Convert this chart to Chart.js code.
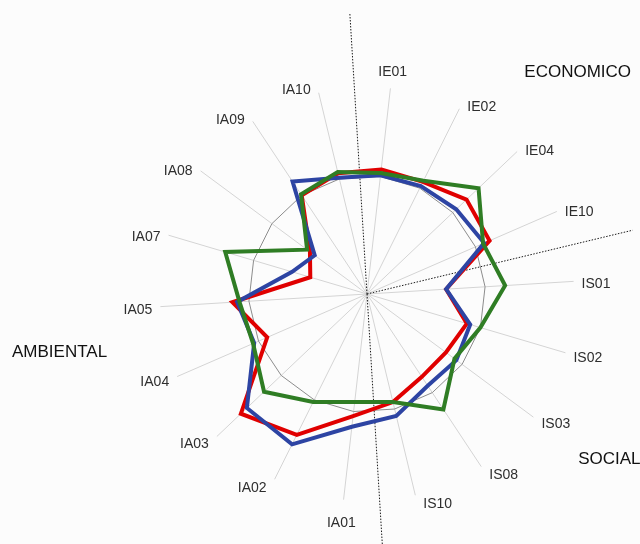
<!DOCTYPE html>
<html>
<head>
<meta charset="utf-8">
<script src="https://cdn.jsdelivr.net/npm/chart.js@4.4.0/dist/chart.umd.min.js"></script>
<style>
    body { margin: 0; background: #fcfcfc; }
    #wrap { width: 640px; height: 544px; position: relative; }
</style>
</head>
<body>
<div id="wrap"><canvas id="radarChart"></canvas></div>
<script>
const categories = ['IE01', 'IE02', 'IE04', 'IE10', 'IS01', 'IS02', 'IS03', 'IS08', 'IS10',
    'IA01', 'IA02', 'IA03', 'IA04', 'IA05', 'IA07', 'IA08', 'IA09', 'IA10'];

const serieRoja = [1.06, 1.06, 1.16, 1.13, 0.67, 0.88, 0.83, 0.84, 0.94, 1.04, 1.33, 1.47, 0.92, 1.14, 0.50, 0.60, 1.00, 1.05];
const serieAzul = [1.01, 1.02, 1.04, 1.08, 0.67, 0.91, 0.94, 0.93, 1.06, 1.13, 1.42, 1.40, 1.04, 1.10, 0.66, 0.55, 1.14, 1.01];
const serieVerde = [1.03, 1.07, 1.30, 1.07, 1.17, 1.00, 0.92, 1.17, 0.94, 0.92, 1.02, 1.20, 1.05, 1.08, 1.25, 0.63, 1.01, 1.06];
const referencia = [1, 1, 1, 1, 1, 1, 1, 1, 1, 1, 1, 1, 1, 1, 1, 1, 1, 1];

// sector names and the index of the first category in each one
const sectors = ['ECONOMICO', 'SOCIAL', 'AMBIENTAL'];
const sectorStart = [0, 4, 9];

// dotted sector dividers + sector names
const sectorPlugin = {
    id: 'sectorLines',
    beforeDatasetsDraw(chart) {
        const scale = chart.scales.r;
        const ctx = chart.ctx;
        const R = scale.drawingArea;
        const lengths = [1.36, 1.32, 1.4];
        const half = Math.PI / categories.length;
        ctx.save();
        ctx.strokeStyle = '#1a1a1a';
        ctx.lineWidth = 1;
        ctx.setLineDash([1.5, 1.5]);
        sectorStart.forEach((start, k) => {
            const a = scale.getIndexAngle(start) - half;
            const L = R * lengths[k];
            ctx.beginPath();
            ctx.moveTo(scale.xCenter, scale.yCenter);
            ctx.lineTo(scale.xCenter + L * Math.sin(a), scale.yCenter - L * Math.cos(a));
            ctx.stroke();
        });
        ctx.restore();
    },
    afterDraw(chart) {
        const scale = chart.scales.r;
        const ctx = chart.ctx;
        const R = scale.drawingArea;
        const xC = scale.xCenter;
        const yC = scale.yCenter;
        ctx.save();

        // category labels round the spokes
        ctx.font = '14px "Liberation Sans", Arial, sans-serif';
        ctx.fillStyle = '#2e2e2e';
        ctx.textBaseline = 'middle';
        categories.forEach((label, i) => {
            const a = scale.getIndexAngle(i);
            const s = Math.sin(a);
            const c = Math.cos(a);
            let x, y;
            if (Math.abs(s) < 0.15) {
                ctx.textAlign = 'center';
                x = xC + (R + 20) * s;
                y = yC - (R + 20) * c + 3.5;
            } else {
                ctx.textAlign = s > 0 ? 'left' : 'right';
                x = xC + R * s + (s > 0 ? 8 : -8);
                y = yC - (R + 6) * c + 3.5;
            }
            ctx.fillText(label, x, y);
        });

        // sector names
        const spots = [[0.76, -1.07], [1.02, 0.8], [-1.715, 0.28]];
        ctx.font = '17px "Liberation Sans", Arial, sans-serif';
        ctx.fillStyle = '#111';
        ctx.textAlign = 'left';
        sectors.forEach((name, k) => {
            ctx.fillText(name, xC + spots[k][0] * R, yC + spots[k][1] * R);
        });
        ctx.restore();
    }
};

const radarChart = () => {
    const ctx = document.getElementById('radarChart').getContext('2d');

    new Chart(ctx, {
        type: 'radar',
        data: {
            labels: categories,
            datasets: [
                {
                    label: 'Serie 1',
                    data: serieRoja,
                    borderColor: '#e00000',
                    borderWidth: 4,
                    order: 3,
                },
                {
                    label: 'Serie 2',
                    data: serieAzul,
                    borderColor: '#2d44a3',
                    borderWidth: 4,
                    order: 2,
                },
                {
                    label: 'Serie 3',
                    data: serieVerde,
                    borderColor: '#2f7d24',
                    borderWidth: 4,
                    order: 1,
                },
                {
                    label: 'Referencia',
                    data: referencia,
                    borderColor: '#8c8c8c',
                    borderWidth: 1,
                    order: 4,
                }
            ]
        },
        options: {
            responsive: true,
            maintainAspectRatio: false,
            animation: false,
            layout: {
                padding: { left: 160, top: 87, right: 65, bottom: 42 }
            },
            elements: {
                line: { tension: 0, fill: false },
                point: { radius: 0, hoverRadius: 0 }
            },
            scales: {
                r: {
                    min: 0,
                    max: 1.75,
                    startAngle: 6.5,
                    ticks: { display: false },
                    grid: { display: false },
                    angleLines: {
                        display: true,
                        color: '#d4d4d4',
                        lineWidth: 1
                    },
                    pointLabels: { display: false }
                }
            },
            plugins: {
                legend: { display: false },
                tooltip: { enabled: false }
            }
        },
        plugins: [sectorPlugin]
    });
}

document.addEventListener('DOMContentLoaded', radarChart);
</script>
</body>
</html>
